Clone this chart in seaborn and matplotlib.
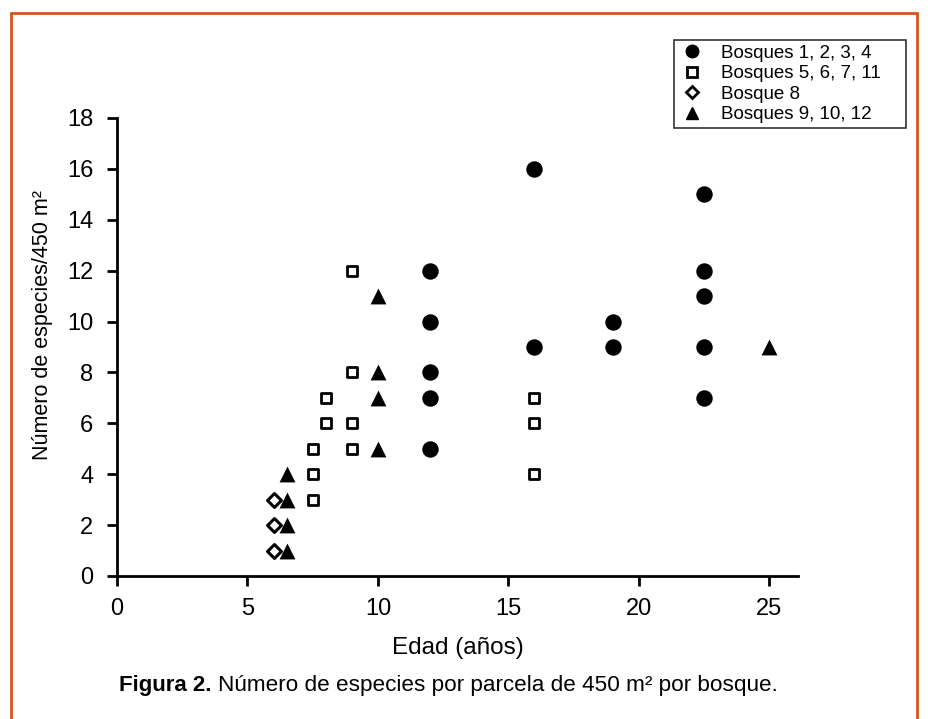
import matplotlib
matplotlib.use("Agg")
import matplotlib.pyplot as plt
import seaborn as sns
import pandas as pd
from matplotlib.lines import Line2D

# Bosques 1, 2, 3, 4 (filled circles)
b1_edad = [12, 12, 12, 12, 12, 16, 16, 19, 19, 22.5, 22.5, 22.5, 22.5, 22.5]
b1_spp = [12, 10, 8, 7, 5, 16, 9, 10, 9, 15, 12, 11, 9, 7]

# Bosques 5, 6, 7, 11 (open squares)
b2_edad = [7.5, 7.5, 7.5, 8, 8, 9, 9, 9, 9, 16, 16, 16]
b2_spp = [5, 4, 3, 7, 6, 12, 8, 6, 5, 7, 6, 4]

# Bosque 8 (open diamonds)
b3_edad = [6, 6, 6]
b3_spp = [3, 2, 1]

# Bosques 9, 10, 12 (filled triangles)
b4_edad = [6.5, 6.5, 6.5, 6.5, 10, 10, 10, 10, 25]
b4_spp = [4, 3, 2, 1, 11, 8, 7, 5, 9]

labels = ["Bosques 1, 2, 3, 4", "Bosques 5, 6, 7, 11", "Bosque 8", "Bosques 9, 10, 12"]

sns.set_style("ticks")
plt.rcParams['font.family'] = ['Liberation Sans', 'DejaVu Sans']
plt.rcParams['text.color'] = 'black'
plt.rcParams['axes.labelcolor'] = 'black'

fig = plt.figure(figsize=(9.3, 7.19), dpi=100)
ax = fig.add_axes([0.1258, 0.1989, 0.7322, 0.637])

groups = [
    (b1_edad, b1_spp, dict(marker='o', s=140, color='black', edgecolor='black', linewidth=0)),
    (b2_edad, b2_spp, dict(marker='s', s=62, color='white', edgecolor='black', linewidth=2)),
    (b3_edad, b3_spp, dict(marker='D', s=50, color='white', edgecolor='black', linewidth=2.2)),
    (b4_edad, b4_spp, dict(marker='^', s=130, color='black', edgecolor='black', linewidth=0)),
]
for (xs, ys, kw), lab in zip(groups, labels):
    df = pd.DataFrame({'x': xs, 'y': ys})
    sns.scatterplot(data=df, x='x', y='y', ax=ax, legend=False, clip_on=False,
                    zorder=3, **kw)

ax.set_xlim(0, 26.1)
ax.set_ylim(0, 18)
ax.set_xticks([0, 5, 10, 15, 20, 25])
ax.set_yticks(range(0, 19, 2))
sns.despine(ax=ax)
for s in ['left', 'bottom']:
    ax.spines[s].set_linewidth(2)
    ax.spines[s].set_color('black')
ax.tick_params(axis='both', direction='out', length=7, width=2, labelsize=17,
               colors='black')
ax.tick_params(axis='x', pad=9)
ax.tick_params(axis='y', pad=10)
ax.set_xlabel("Edad (años)", fontsize=17.5, labelpad=12, color='black')
ax.set_ylabel("Número de especies/450 m²", fontsize=15.5, color='black')
ax.yaxis.set_label_coords(-0.094, 0.548)

handles = [
    Line2D([], [], ls='none', marker='o', ms=9, mfc='black', mec='black'),
    Line2D([], [], ls='none', marker='s', ms=6.5, mfc='white', mec='black', mew=2),
    Line2D([], [], ls='none', marker='D', ms=6, mfc='white', mec='black', mew=2),
    Line2D([], [], ls='none', marker='^', ms=9, mfc='black', mec='black'),
]
leg = ax.legend(handles, labels, loc='upper left',
                bbox_to_anchor=(674 / 930, 1 - 126 / 719, 232 / 930, 86 / 719),
                bbox_transform=fig.transFigure, mode='expand', frameon=True,
                fancybox=False, fontsize=13.5, handlelength=1.4, handletextpad=0.85,
                labelspacing=0.18, borderpad=0.25, borderaxespad=0,
                labelcolor='black')
leg.get_frame().set_edgecolor('black')
leg.get_frame().set_linewidth(1.2)

fig.text(0.128, 0.046, "Figura 2.", fontsize=16, fontweight='bold', ha='left',
         va='center', color='black')
fig.text(0.2344, 0.046, "Número de especies por parcela de 450 m² por bosque.",
         fontsize=16.2, ha='left', va='center', color='black')

# orange frame
frame_c = '#D4561E'
fig.add_artist(Line2D([0.0118, 0.0118], [0.0, 0.982], color=frame_c, lw=2,
                      transform=fig.transFigure))
fig.add_artist(Line2D([0.0118, 0.9855], [0.982, 0.982], color=frame_c, lw=2,
                      transform=fig.transFigure))
fig.add_artist(Line2D([0.9855, 0.9855], [0.0, 0.982], color=frame_c, lw=2,
                      transform=fig.transFigure))

fig.savefig("out.png", dpi=100)
